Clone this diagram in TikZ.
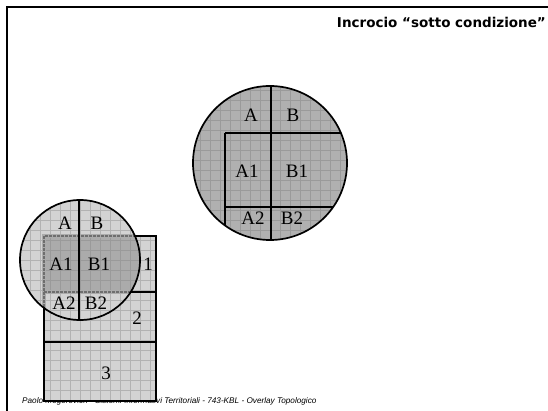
\documentclass[tikz,border=0pt]{standalone}
\usepackage{fontspec}
\setmainfont{Liberation Serif}
\newfontfamily\titolo{DejaVu Sans}
\newfontfamily\piede{Liberation Sans}
\definecolor{grigio}{HTML}{B0B0B0}
\definecolor{grigiol}{HTML}{D3D3D3}
\definecolor{grigiom}{HTML}{ABABAB}
\definecolor{reti}{HTML}{9A9A9A}
\definecolor{retil}{HTML}{B2B2B2}
\definecolor{hgrau}{HTML}{6E6E6E}
\tikzset{
  cornice/.style={black,line width=2.4pt},
  taglio/.style={black,line width=2.6pt},
  bordo/.style={black,line width=1.7pt},
  tratt/.style={hgrau,dashed,dash pattern=on 3pt off 1pt,line width=2.2pt},
  reticolo/.style={retil,line width=0.6pt},
  reticolos/.style={reti,line width=0.6pt},
  etich/.style={font=\fontsize{19}{19}\selectfont,inner sep=0pt},
}
\begin{document}
\begin{tikzpicture}[x=1pt,y=-1pt]
  \useasboundingbox (0,0) rectangle (548,411);
  % cornice della pagina
  \draw[cornice] (548,7) -- (7,7) -- (7,411);
  \node[anchor=base east,inner sep=0pt,font=\titolo\bfseries\fontsize{13.5}{14}\selectfont] (tit) at (546,28) {Incrocio “sotto condizione”};
  \node[anchor=base west,inner sep=0pt,font=\piede\itshape\fontsize{8.2}{9}\selectfont] (pie) at (22,403) {Paolo Mogorovich - Sistemi Informativi Territoriali - 743-KBL - Overlay Topologico};

  % risultato: cerchio grande
  \fill[grigio] (270,163) circle (77);
  \begin{scope}
    \clip (270,163) circle (77);
    \foreach \gx in {190,200,...,350} \draw[reticolos] (\gx,80) -- (\gx,250);
    \foreach \gy in {80,90,...,250} \draw[reticolos] (190,\gy) -- (350,\gy);
    \draw[taglio] (271,80) -- (271,250);
    \draw[taglio] (225,133) -- (360,133);
    \draw[taglio] (225,133) -- (225,250);
    \draw[taglio] (225,207) -- (360,207);
  \end{scope}
  \draw[bordo] (270,163) circle (77);
  \node[etich] (a) at (251,115) {A};
  \node[etich] (b) at (293,115) {B};
  \node[etich] (a1) at (247,171) {A1};
  \node[etich] (b1) at (297,171) {B1};
  \node[etich] (a2) at (253,218) {A2};
  \node[etich] (b2) at (292,218) {B2};

  % particelle 1 2 3
  \fill[grigiol] (44,236) rectangle (156,401);
  \begin{scope}
    \clip (44,236) rectangle (156,401);
    \foreach \gx in {40,50,...,160} \draw[reticolo] (\gx,230) -- (\gx,410);
    \foreach \gy in {230,240,...,410} \draw[reticolo] (40,\gy) -- (160,\gy);
  \end{scope}
  % cerchio sovrapposto
  \fill[grigiol] (80,260) circle (60);
  \begin{scope}
    \clip (80,260) circle (60);
    \foreach \gx in {20,30,...,140} \draw[reticolo] (\gx,200) -- (\gx,320);
    \foreach \gy in {200,210,...,320} \draw[reticolo] (20,\gy) -- (140,\gy);
    \fill[grigiom] (44,236) rectangle (156,292);
    \begin{scope}
      \clip (44,236) rectangle (156,292);
      \foreach \gx in {40,50,...,160} \draw[reticolos] (\gx,230) -- (\gx,300);
      \foreach \gy in {230,240,...,300} \draw[reticolos] (40,\gy) -- (160,\gy);
    \end{scope}
  \end{scope}
  \draw[taglio] (44,236) rectangle (156,401);
  \draw[taglio] (44,292) -- (156,292);
  \draw[taglio] (44,342) -- (156,342);
  \begin{scope}
    \clip (80,260) circle (59);
    \draw[grigiom,line width=3.2pt] (156,236) -- (44,236) -- (44,330) (44,292) -- (156,292);
    \draw[tratt] (156,236) -- (44,236) -- (44,330) (44,292) -- (156,292);
    \draw[taglio] (79,195) -- (79,325);
  \end{scope}
  \draw[bordo] (80,260) circle (60);
  \node[etich] (pa) at (65,223) {A};
  \node[etich] (pb) at (97,223) {B};
  \node[etich] (pa1) at (61,264) {A1};
  \node[etich] (pb1) at (99,264) {B1};
  \node[etich] (p1) at (148,264) {1};
  \node[etich] (pa2) at (64,303) {A2};
  \node[etich] (pb2) at (96,303) {B2};
  \node[etich] (p2) at (137,318) {2};
  \node[etich] (p3) at (106,373) {3};
\end{tikzpicture}
\end{document}
